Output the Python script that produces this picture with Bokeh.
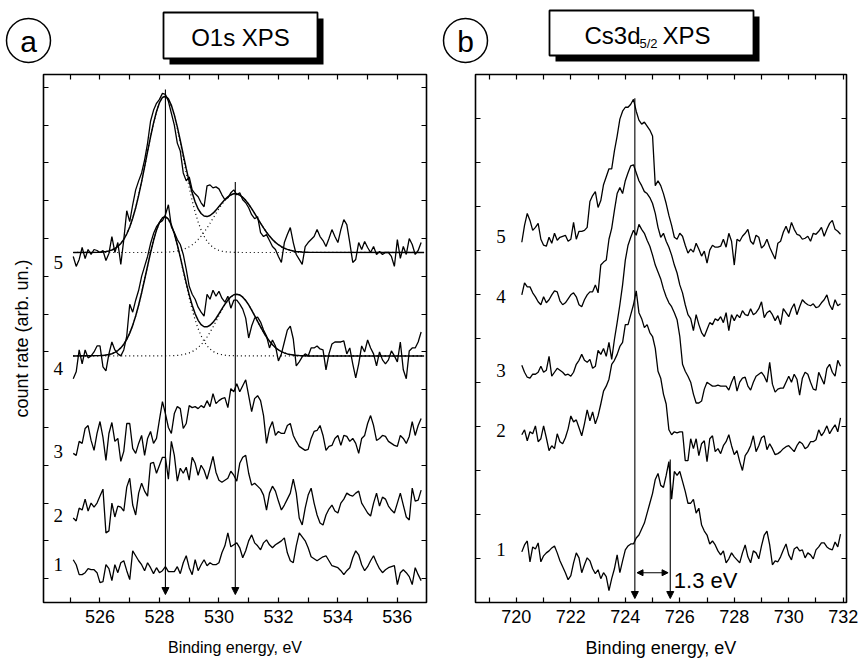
import numpy as np
from bokeh.plotting import figure
from bokeh.layouts import row, column
from bokeh.models import Range1d, FixedTicker, LinearAxis, Arrow, NormalHead
from bokeh.core.properties import value
from bokeh.embed import file_html
from bokeh.resources import INLINE

# ---------------- Panel (a): O1s XPS ----------------
o1s_start, o1s_step, o1s_n = 525.1, 0.1, 118
o1s_energy = [round(o1s_start + o1s_step * k, 1) for k in range(o1s_n)]

o1s_s1 = [43, 38, 28, 28, 30, 34, 33, 33, 30, 20,
          21, 38, 34, 22, 38, 30, 40, 42, 32, 23,
          52, 47, 42, 38, 32, 40, 35, 29, 35, 30,
          32, 36, 31, 31, 31, 36, 29, 40, 47, 35,
          28, 43, 32, 38, 43, 37, 40, 38, 38, 40,
          50, 57, 70, 56, 58, 60, 55, 45, 52, 62,
          68, 60, 57, 53, 60, 63, 58, 55, 58, 60,
          62, 65, 50, 42, 40, 57, 70, 66, 62, 55,
          46, 44, 42, 44, 46, 47, 42, 37, 36, 35,
          32, 28, 32, 35, 45, 52, 48, 38, 32, 36,
          42, 47, 40, 34, 30, 33, 35, 36, 37, 18,
          30, 33, 30, 26, 18, 35, 28, 22]
o1s_s2 = [85, 82, 95, 93, 104, 92, 100, 96, 100, 107,
          114, 70, 72, 100, 86, 97, 96, 92, 116, 125,
          98, 88, 110, 120, 112, 107, 140, 141, 130, 138,
          146, 146, 124, 162, 148, 122, 135, 130, 136, 123,
          146, 140, 128, 138, 133, 124, 135, 147, 131, 123,
          121, 123, 125, 132, 128, 122, 140, 146, 148, 130,
          118, 120, 117, 114, 108, 93, 110, 117, 112, 102,
          93, 98, 104, 110, 124, 110, 85, 78, 95, 108,
          115, 100, 88, 80, 78, 88, 94, 98, 92, 90,
          100, 104, 110, 108, 107, 110, 112, 100, 95, 90,
          87, 100, 110, 97, 106, 104, 97, 93, 90, 100,
          110, 98, 86, 83, 115, 102, 103, 113]
o1s_s3 = [150, 148, 162, 160, 175, 178, 163, 153, 170, 182,
          166, 143, 170, 181, 162, 165, 142, 152, 180, 180,
          155, 150, 160, 168, 148, 165, 172, 160, 165, 184,
          202, 190, 176, 170, 190, 197, 195, 175, 180, 198,
          196, 197, 195, 198, 196, 203, 197, 210, 200, 203,
          205, 206, 196, 215, 212, 220, 212, 218, 224, 208,
          192, 205, 208, 203, 188, 160, 175, 182, 168, 172,
          170, 170, 178, 180, 168, 162, 157, 155, 153, 154,
          165, 172, 173, 178, 168, 153, 157, 158, 165, 168,
          158, 168, 167, 162, 165, 160, 150, 165, 168, 180,
          188, 178, 163, 165, 168, 167, 162, 160, 158, 157,
          168, 165, 160, 167, 182, 168, 178, 185]
o1s_s4 = [225, 232, 254, 240, 254, 246, 248, 252, 258, 258,
          237, 233, 250, 262, 254, 250, 248, 254, 268, 300,
          292, 304, 314, 328, 338, 348, 361, 371, 378, 382,
          384, 390, 400, 378, 372, 365, 360, 350, 335, 318,
          310, 305, 297, 292, 288, 310, 305, 314, 308, 313,
          306, 302, 308, 296, 304, 304, 300, 295, 286, 266,
          278, 286, 287, 282, 274, 268, 256, 264, 258, 243,
          250, 262, 274, 278, 265, 238, 242, 247, 250, 248,
          256, 256, 258, 255, 254, 234, 250, 260, 262, 262,
          262, 263, 250, 256, 240, 226, 240, 258, 252, 264,
          256, 250, 238, 252, 244, 240, 244, 253, 248, 242,
          262, 234, 225, 253, 256, 256, 262, 272]
o1s_s5 = [348, 338, 345, 357, 346, 355, 350, 355, 354, 352,
          354, 344, 351, 368, 352, 362, 340, 365, 394, 383,
          400, 415, 424, 432, 445, 462, 484, 495, 502, 506,
          512, 511, 504, 492, 480, 462, 454, 432, 424, 428,
          415, 411, 408, 402, 398, 419, 420, 417, 418, 416,
          410, 405, 407, 412, 415, 410, 412, 405, 402, 397,
          390, 386, 388, 372, 368, 370, 364, 358, 355, 348,
          342, 362, 370, 377, 362, 350, 345, 340, 358, 362,
          365, 368, 375, 368, 364, 358, 366, 375, 368, 362,
          375, 385, 380, 362, 342, 345, 362, 355, 363, 357,
          352, 358, 350, 353, 350, 352, 352, 348, 338, 365,
          346, 358, 350, 366, 360, 350, 354, 362]

# fitted components (excess above each baseline), 526.0 ... 533.0 eV, step 0.1
fit_start, fit_n = 526.0, 71
fit_energy = [525.1] + [round(fit_start + 0.1 * k, 1) for k in range(fit_n)] + [536.9]
o1s_base5, o1s_base4 = 352, 248
s5_comp1 = [0.3, 0.6, 1.0, 1.6, 2.5, 4.0, 6.1, 9.1, 13.2, 18.6,
            25.7, 34.4, 45.0, 57.4, 71.2, 86.1, 101.4, 116.3, 130.1, 141.8,
            150.5, 155.7, 157.0, 154.1, 147.4, 137.4, 124.8, 110.4, 95.2, 80.0,
            65.5, 52.2, 40.6, 30.7, 22.7, 16.3, 11.4, 7.8, 5.2, 3.3,
            2.1, 1.3, 0.8, 0.5, 0.3, 0.2, 0.1] + [0.0] * 24
s5_comp2 = [0.0] * 20 + [0.1, 0.2, 0.3, 0.4, 0.6, 1.0, 1.5, 2.2, 3.1, 4.3,
            5.8, 7.8, 10.2, 13.1, 16.5, 20.4, 24.7, 29.4, 34.3, 39.3,
            44.1, 48.5, 52.4, 55.5, 57.7, 58.9, 58.9, 57.7, 55.5, 52.4,
            48.5, 44.1, 39.3, 34.3, 29.4, 24.7, 20.4, 16.5, 13.1, 10.2,
            7.8, 5.8, 4.3, 3.1, 2.2, 1.5, 1.0, 0.7, 0.4, 0.3, 0.2]
s4_comp1 = [0.3, 0.5, 0.9, 1.4, 2.2, 3.6, 5.4, 8.1, 11.8, 16.6,
            22.9, 30.7, 40.1, 51.2, 63.5, 76.8, 90.4, 103.7, 116.0, 126.5,
            134.2, 138.9, 140.0, 137.5, 131.5, 122.6, 111.3, 98.5, 84.9, 71.4,
            58.4, 46.6, 36.2, 27.4, 20.2, 14.5, 10.2, 7.0, 4.6, 2.9,
            1.9, 1.2, 0.7, 0.4, 0.3, 0.2, 0.1] + [0.0] * 24
s4_comp2 = [0.0] * 23 + [0.1, 0.2, 0.3, 0.5, 0.9, 1.3, 2.0,
            3.0, 4.3, 6.1, 8.4, 11.3, 14.8, 19.0, 23.8, 29.1, 34.7,
            40.5, 46.1, 51.3, 55.7, 59.1, 61.3, 62.0, 61.3, 59.1, 55.7,
            51.3, 46.1, 40.5, 34.7, 29.1, 23.8, 19.0, 14.8, 11.3, 8.4,
            6.1, 4.3, 3.0, 2.0, 1.3, 0.9, 0.5, 0.3, 0.2, 0.1, 0.0]

o1s_peaks = [528.2, 530.55]
o1s_arrow_top = [516, 423]
o1s_arrow_tip = 8
o1s_xmajor = [526, 528, 530, 532, 534, 536]
o1s_xminor = [525, 527, 529, 531, 533, 535, 537]
o1s_yticks = [24, 62, 100, 138, 176, 214, 252, 290, 328, 366, 404, 442, 480, 518]
o1s_label_x = 524.6
o1s_label_y = [38, 87, 152, 235, 342]

# ---------------- Panel (b): Cs3d5/2 XPS ----------------
cs_start, cs_step, cs_n = 720.2, 0.1, 118
cs_energy = [round(cs_start + cs_step * k, 1) for k in range(cs_n)]

cs_s1 = [51, 58, 62, 41, 56, 54, 60, 41, 47, 50,
         52, 55, 57, 50, 42, 36, 30, 23, 27, 40,
         50, 45, 30, 38, 45, 42, 34, 29, 33, 24,
         30, 26, 12, 24, 34, 48, 30, 42, 53, 57,
         59, 59, 65, 68, 74, 80, 90, 100, 110, 124,
         130, 118, 116, 128, 142, 104, 132, 128, 132, 122,
         112, 100, 100, 104, 90, 95, 78, 72, 68, 59,
         62, 58, 52, 48, 52, 40, 44, 50, 46, 43,
         40, 50, 58, 46, 40, 52, 50, 44, 57, 68,
         72, 58, 38, 42, 41, 46, 53, 59, 48, 43,
         54, 56, 52, 53, 45, 50, 48, 44, 53, 56,
         60, 60, 56, 54, 53, 61, 56, 69]
cs_s2 = [169, 174, 163, 172, 170, 178, 162, 165, 178, 166,
         153, 158, 155, 170, 162, 160, 166, 175, 188, 182,
         184, 176, 168, 180, 194, 183, 192, 180, 188, 200,
         213, 218, 225, 240, 244, 250, 258, 262, 280, 280,
         290, 300, 314, 292, 286, 277, 280, 272, 268, 256,
         233, 226, 210, 200, 174, 169, 172, 171, 172, 172,
         143, 143, 165, 155, 165, 148, 160, 163, 142, 165,
         168, 152, 155, 150, 158, 162, 169, 158, 149, 153,
         142, 133, 148, 152, 158, 168, 152, 158, 166, 168,
         154, 160, 155, 149, 150, 152, 155, 157, 158, 155,
         152, 158, 162, 160, 155, 157, 162, 162, 164, 174,
         168, 172, 178, 170, 175, 179, 172, 186]
cs_s3 = [239, 232, 227, 226, 230, 230, 232, 238, 232, 234,
         248, 228, 232, 236, 234, 232, 229, 230, 228, 232,
         240, 244, 250, 244, 242, 245, 236, 238, 254, 250,
         256, 248, 262, 245, 265, 282, 300, 320, 345, 360,
         368, 375, 370, 381, 376, 372, 365, 359, 350, 340,
         333, 326, 316, 308, 302, 298, 292, 285, 268, 240,
         233, 228, 222, 210, 201, 201, 203, 215, 222, 220,
         218, 218, 219, 218, 218, 218, 214, 222, 228, 213,
         222, 226, 227, 218, 214, 222, 228, 230, 232, 228,
         222, 242, 220, 212, 215, 216, 216, 222, 228, 222,
         230, 225, 209, 226, 232, 230, 222, 215, 214, 232,
         226, 220, 236, 240, 232, 228, 244, 238]
cs_s4 = [310, 322, 318, 318, 312, 308, 303, 300, 308, 302,
         305, 310, 314, 313, 304, 300, 302, 306, 310, 312,
         308, 300, 298, 305, 310, 313, 313, 320, 312, 340,
         343, 345, 366, 377, 395, 412, 418, 412, 425, 433,
         440, 441, 433, 425, 420, 414, 412, 408, 402, 392,
         378, 368, 372, 364, 358, 350, 340, 332, 320, 312,
         300, 290, 286, 274, 290, 280, 272, 268, 275, 282,
         280, 286, 284, 288, 282, 292, 274, 290, 284, 290,
         287, 294, 290, 289, 296, 290, 292, 296, 303, 287,
         292, 294, 290, 284, 289, 280, 296, 292, 288, 296,
         301, 290, 298, 305, 302, 300, 299, 301, 297, 298,
         302, 305, 310, 300, 295, 305, 299, 301]
cs_s5 = [363, 380, 392, 385, 375, 378, 382, 366, 360, 359,
         368, 362, 372, 365, 368, 369, 370, 364, 366, 383,
         366, 374, 374, 375, 378, 404, 410, 414, 398, 405,
         421, 429, 437, 437, 455, 470, 487, 495, 499, 499,
         502, 507, 495, 486, 482, 484, 480, 476, 470, 420,
         425, 420, 412, 402, 390, 380, 368, 366, 372, 369,
         360, 352, 356, 353, 362, 356, 349, 354, 342, 355,
         360, 358, 358, 359, 366, 358, 372, 364, 340, 366,
         364, 369, 372, 376, 364, 361, 370, 368, 357, 360,
         366, 358, 352, 346, 362, 364, 373, 379, 372, 383,
         376, 371, 370, 366, 367, 369, 364, 372, 371, 374,
         378, 369, 376, 382, 385, 376, 374, 371]

cs_peaks = [724.35, 725.65]
cs_arrow_top = [508, 144]
cs_arrow_tip = 4
cs_shift_y = 30
cs_shift_text = "1.3 eV"
cs_xmajor = [720, 722, 724, 726, 728, 730, 732]
cs_xminor = [719, 721, 723, 725, 727, 729, 731]
cs_yticks = [44.3, 88.7, 133, 177.3, 221.7, 266, 310.3, 354.7, 399, 443.3, 487.7]
cs_label_x = 719.44
cs_label_y = [53, 173, 234, 308, 369]

curve_names = ["1", "2", "3", "4", "5"]

for arr in [o1s_s1, o1s_s2, o1s_s3, o1s_s4, o1s_s5]:
    assert len(arr) == o1s_n, len(arr)
for arr in [cs_s1, cs_s2, cs_s3, cs_s4, cs_s5]:
    assert len(arr) == cs_n, len(arr)
for arr in [s5_comp1, s5_comp2, s4_comp1, s4_comp2]:
    assert len(arr) == fit_n, len(arr)

SANS = "Liberation Sans"
SERIF = "Liberation Serif"
HEAD_H = 66
MAIN_H = 594


def make_fig(width, xr, yr, xmaj, xmin, yt, bl, br, bt, bb, xlabel, xlabel_size,
             xlabel_standoff, ylabel=None):
    p = figure(width=width, height=MAIN_H, x_range=Range1d(*xr), y_range=Range1d(*yr),
               output_backend="svg", toolbar_location=None,
               min_border_left=bl, min_border_right=br,
               min_border_top=bt, min_border_bottom=bb)
    p.grid.visible = False
    p.outline_line_color = "black"
    p.outline_line_width = 1.6
    p.outline_line_alpha = 1.0
    p.background_fill_color = "white"
    p.border_fill_color = "white"
    xt = FixedTicker(ticks=xmaj, minor_ticks=xmin)
    ytk = FixedTicker(ticks=yt, minor_ticks=[])
    p.xaxis.ticker = xt
    p.yaxis.ticker = ytk
    p.add_layout(LinearAxis(ticker=xt), "above")
    p.add_layout(LinearAxis(ticker=ytk), "right")
    for ax in p.axis:
        ax.axis_line_color = None
        ax.major_tick_in = 5
        ax.major_tick_out = 0
        ax.minor_tick_in = 5
        ax.minor_tick_out = 0
        ax.major_tick_line_color = "black"
        ax.minor_tick_line_color = "black"
        ax.major_tick_line_width = 1.2
        ax.minor_tick_line_width = 1.2
        ax.major_label_text_font_size = "0px"
        ax.major_label_text_color = None
        ax.major_label_standoff = 0
    for ax in p.yaxis:
        ax.minor_tick_line_color = None
    bx = p.below[0]
    bx.major_label_text_font_size = "18px"
    bx.major_label_text_font = SANS
    bx.major_label_text_color = "black"
    bx.major_label_standoff = 7
    bx.axis_label = xlabel
    bx.axis_label_text_font = SANS
    bx.axis_label_text_font_size = xlabel_size
    bx.axis_label_text_font_style = "normal"
    bx.axis_label_text_color = "black"
    bx.axis_label_standoff = xlabel_standoff
    if ylabel:
        ly = p.left[0]
        ly.axis_label = ylabel
        ly.axis_label_text_font = SANS
        ly.axis_label_text_font_size = "18px"
        ly.axis_label_text_font_style = "normal"
        ly.axis_label_text_color = "black"
        ly.axis_label_standoff = 12
    return p


def make_header(width, x0):
    h = figure(width=width, height=HEAD_H, x_range=Range1d(x0, x0 + width),
               y_range=Range1d(HEAD_H, 0), output_backend="svg", toolbar_location=None,
               min_border=0, x_axis_type=None, y_axis_type=None)
    h.grid.visible = False
    h.outline_line_color = None
    h.background_fill_color = "white"
    h.border_fill_color = "white"
    return h


def text(p, x, y, t, size, font=SANS, align="center", baseline="middle"):
    p.text(x=[x], y=[y], text=[t], text_font=value(font), text_font_size=size,
           text_color="black", text_align=align, text_baseline=baseline)


LW = 1.3

# ---------- panel a ----------
pa = make_fig(440, (524.10, 536.98), (0, 531), o1s_xmajor, o1s_xminor, o1s_yticks,
              43, 14, 8, 55, "Binding energy, eV", "16px", 13, "count rate (arb. un.)")

for s in [o1s_s1, o1s_s2, o1s_s3, o1s_s4, o1s_s5]:
    pa.line(o1s_energy, s, line_color="black", line_width=LW)

for base, c1, c2 in [(o1s_base5, s5_comp1, s5_comp2), (o1s_base4, s4_comp1, s4_comp2)]:
    c1p = [0.0] + c1 + [0.0]
    c2p = [0.0] + c2 + [0.0]
    pa.line(fit_energy, [base + v for v in c1p], line_color="black", line_width=1.2,
            line_dash="1 3")
    pa.line(fit_energy, [base + v for v in c2p], line_color="black", line_width=1.2,
            line_dash="1 3")
    pa.line(fit_energy, [base + a + b for a, b in zip(c1p, c2p)], line_color="black",
            line_width=1.5)

for xp, yt in zip(o1s_peaks, o1s_arrow_top):
    pa.add_layout(Arrow(end=NormalHead(size=7, fill_color="black", line_color="black"),
                        x_start=xp, y_start=yt, x_end=xp, y_end=o1s_arrow_tip,
                        line_color="black", line_width=1.1))

pa.text(x=[o1s_label_x] * 5, y=o1s_label_y, text=curve_names,
        text_font=value(SERIF), text_font_size="19px", text_color="black",
        text_align="center", text_baseline="middle")

ha = make_header(440, 0)
ha.circle(x=[28], y=[40], radius=22, fill_color=None, line_color="black", line_width=1.5)
text(ha, 28, 41, "a", "30px")
ha.quad(left=[169], right=[323], top=[18], bottom=[64], fill_color="black", line_color=None)
ha.quad(left=[163], right=[317], top=[12], bottom=[58], fill_color="white",
        line_color="black", line_width=1.8)
text(ha, 240, 37, "O1s XPS", "24px")

# ---------- panel b ----------
pb = make_fig(418, (718.5, 732.12), (0, 532), cs_xmajor, cs_xminor, cs_yticks,
              35, 12, 8, 54, "Binding energy, eV", "18px", 12)

for s in [cs_s1, cs_s2, cs_s3, cs_s4, cs_s5]:
    pb.line(cs_energy, s, line_color="black", line_width=LW)

for xp, yt in zip(cs_peaks, cs_arrow_top):
    pb.add_layout(Arrow(end=NormalHead(size=7, fill_color="black", line_color="black"),
                        x_start=xp, y_start=yt, x_end=xp, y_end=cs_arrow_tip,
                        line_color="black", line_width=1.1))
pb.add_layout(Arrow(start=NormalHead(size=6, fill_color="black", line_color="black"),
                    end=NormalHead(size=6, fill_color="black", line_color="black"),
                    x_start=cs_peaks[0] + 0.08, y_start=cs_shift_y,
                    x_end=cs_peaks[1] - 0.08, y_end=cs_shift_y,
                    line_color="black", line_width=1.1))
pb.text(x=[cs_peaks[1] + 0.13], y=[cs_shift_y - 8], text=[cs_shift_text],
        text_font=value(SANS), text_font_size="22px", text_color="black",
        text_align="left", text_baseline="middle")

pb.text(x=[cs_label_x] * 5, y=cs_label_y, text=curve_names,
        text_font=value(SERIF), text_font_size="19px", text_color="black",
        text_align="center", text_baseline="middle")

hb = make_header(418, 440)
hb.circle(x=[465], y=[40], radius=22, fill_color=None, line_color="black", line_width=1.5)
text(hb, 465, 41, "b", "30px")
hb.quad(left=[555], right=[759], top=[16], bottom=[61], fill_color="black", line_color=None)
hb.quad(left=[549], right=[753], top=[10], bottom=[55], fill_color="white",
        line_color="black", line_width=1.8)
text(hb, 584, 35, "Cs3d", "24px", align="left")
text(hb, 639, 43, "5/2", "13px", align="left")
text(hb, 662, 35, "XPS", "24px", align="left")

layout = column(row(ha, hb), row(pa, pb))
open("out.html", "w").write(file_html(layout, INLINE))
